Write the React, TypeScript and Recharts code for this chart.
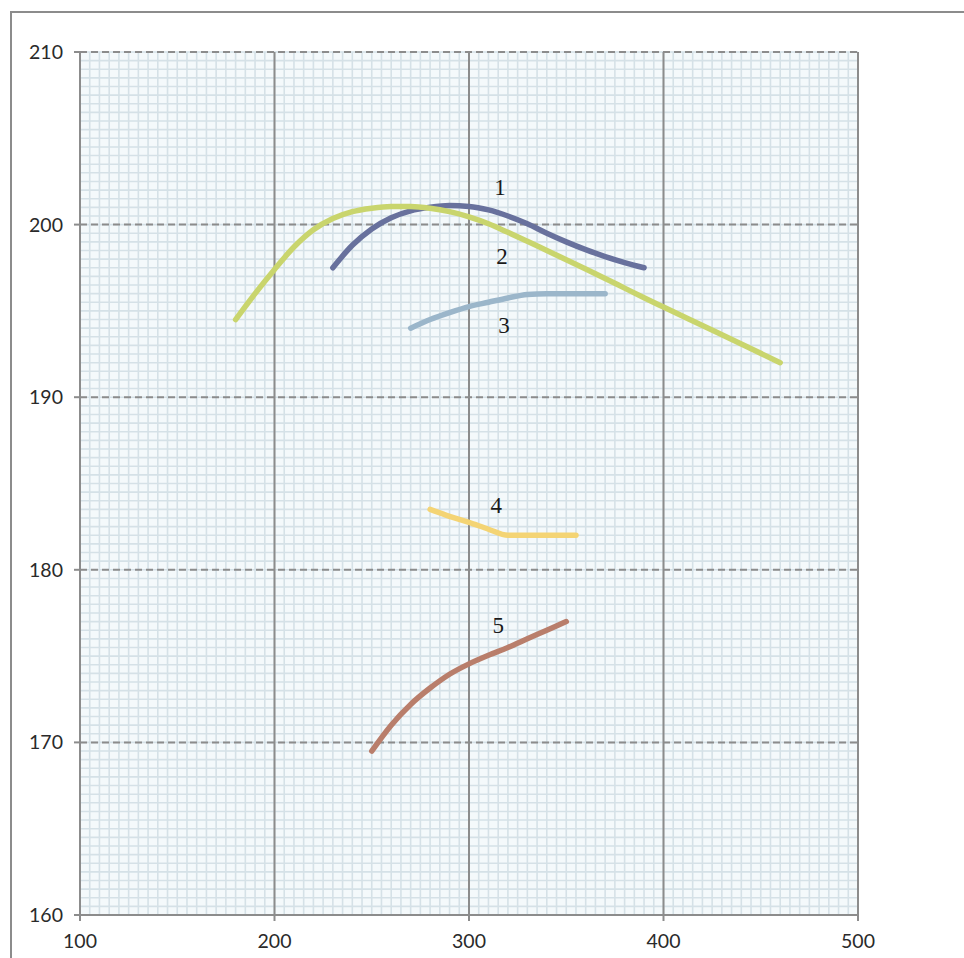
import {
  LineChart,
  Line,
  XAxis,
  YAxis,
  CartesianGrid,
  ReferenceLine,
  ReferenceDot,
} from 'recharts';

// curve values
const curve1X = [230, 240, 250, 260, 270, 280, 290, 300, 310, 320, 330, 340, 350, 360, 370, 380, 390];
const curve1Y = [197.5, 198.8, 199.75, 200.4, 200.8, 201.0, 201.1, 201.05, 200.85, 200.5, 200.05, 199.5, 199.0, 198.55, 198.15, 197.8, 197.5];

const curve2X = [180, 190, 200, 210, 220, 230, 240, 250, 260, 270, 280, 290, 300, 310, 320, 330, 340, 350, 360, 370, 380, 390, 400, 420, 440, 460];
const curve2Y = [194.5, 196.0, 197.4, 198.7, 199.7, 200.35, 200.75, 200.95, 201.05, 201.05, 200.95, 200.75, 200.45, 200.05, 199.55, 199.03, 198.5, 197.97, 197.43, 196.88, 196.32, 195.76, 195.22, 194.15, 193.08, 192.0];

const curve3X = [270, 280, 290, 300, 310, 320, 330, 340, 350, 360, 370];
const curve3Y = [194.0, 194.5, 194.9, 195.25, 195.5, 195.75, 195.95, 196.0, 196.0, 196.0, 196.0];

const curve4X = [280, 290, 300, 310, 320, 330, 340, 355];
const curve4Y = [183.5, 183.1, 182.75, 182.35, 182.0, 182.0, 182.0, 182.0];

const curve5X = [250, 260, 270, 280, 290, 300, 310, 320, 330, 340, 350];
const curve5Y = [169.5, 171.0, 172.2, 173.15, 173.95, 174.55, 175.05, 175.5, 176.0, 176.5, 177.0];

const curveColors = ['#68719d', '#c9d56d', '#9bb6ca', '#f4d474', '#b97e6b'];

const labelNames = ['1', '2', '3', '4', '5'];
const labelX = [316, 317, 318, 314, 315];
const labelY = [202.2, 198.2, 194.2, 183.75, 176.8];

const xDomain = [100, 500];
const yDomain = [160, 210];
const xTicks = [100, 200, 300, 400, 500];
const yTicks = [160, 170, 180, 190, 200, 210];
const xMajor = [200, 300, 400];
const yMajor = [170, 180, 190, 200, 210];

// fine graph-paper grid: every 5 along x, every 0.5 along y
const xMinor = Array.from({ length: 81 }, (_, i) => 100 + i * 5);
const yMinor = Array.from({ length: 101 }, (_, i) => 160 + i * 0.5);

const zip = (xs: number[], ys: number[]) => xs.map((x, i) => ({ x, y: ys[i] }));
const curves = [
  zip(curve1X, curve1Y),
  zip(curve2X, curve2Y),
  zip(curve3X, curve3Y),
  zip(curve4X, curve4Y),
  zip(curve5X, curve5Y),
];

const tickStyle = { fontSize: 19.5, fill: '#2a2a2a', fontFamily: 'Lato, sans-serif' };

export default function App() {
  return (
    <div style={{ position: 'absolute', left: 0, top: 0, width: 964, height: 958, background: '#fff' }}>
      <div
        style={{
          position: 'absolute',
          left: 10,
          top: 11,
          width: 954,
          height: 947,
          borderTop: '2px solid #8c8c8c',
          borderLeft: '2px solid #8c8c8c',
        }}
      />
      <div style={{ position: 'absolute', left: 0, top: 0 }}>
        <LineChart width={964} height={958} margin={{ top: 52, right: 106, left: 20, bottom: 13 }}>
          <CartesianGrid
            fill="#f4f9fb"
            stroke="#d5e1e7"
            strokeWidth={1.6}
            horizontalCoordinatesGenerator={({ offset }: any) =>
              yMinor.map(
                (v) => offset.top + ((yDomain[1] - v) / (yDomain[1] - yDomain[0])) * offset.height
              )
            }
            verticalCoordinatesGenerator={({ offset }: any) =>
              xMinor.map(
                (v) => offset.left + ((v - xDomain[0]) / (xDomain[1] - xDomain[0])) * offset.width
              )
            }
          />
          <XAxis
            dataKey="x"
            type="number"
            domain={xDomain}
            ticks={xTicks}
            allowDataOverflow
            height={30}
            tick={tickStyle}
            tickSize={6}
            tickMargin={13}
            axisLine={{ stroke: '#8c8c8c', strokeWidth: 2 }}
            tickLine={{ stroke: '#8c8c8c', strokeWidth: 2 }}
          />
          <YAxis
            dataKey="y"
            type="number"
            domain={yDomain}
            ticks={yTicks}
            allowDataOverflow
            width={60}
            tick={tickStyle}
            tickSize={6}
            tickMargin={11}
            axisLine={{ stroke: '#8c8c8c', strokeWidth: 2 }}
            tickLine={{ stroke: '#8c8c8c', strokeWidth: 2 }}
          />
          {xMajor.map((v) => (
            <ReferenceLine key={'vx' + v} x={v} stroke="#8c8c8c" strokeWidth={2} />
          ))}
          <ReferenceLine x={500} stroke="#8c8c8c" strokeWidth={2} />
          {yMajor.map((v) => (
            <ReferenceLine key={'hy' + v} y={v} stroke="#8c8c8c" strokeWidth={2} strokeDasharray="7 4" />
          ))}
          {curves.map((d, i) => (
            <Line
              key={i}
              data={d}
              dataKey="y"
              type="monotone"
              stroke={curveColors[i]}
              strokeWidth={5.5}
              strokeLinecap="round"
              strokeLinejoin="round"
              dot={false}
              activeDot={false}
              isAnimationActive={false}
            />
          ))}
          {labelNames.map((n, i) => (
            <ReferenceDot
              key={'lb' + n}
              x={labelX[i]}
              y={labelY[i]}
              r={0}
              fill="none"
              stroke="none"
              label={{
                value: n,
                position: 'center',
                fill: '#1a1a1a',
                fontSize: 23,
                fontFamily: '"Liberation Serif", serif',
              }}
            />
          ))}
        </LineChart>
      </div>
    </div>
  );
}
